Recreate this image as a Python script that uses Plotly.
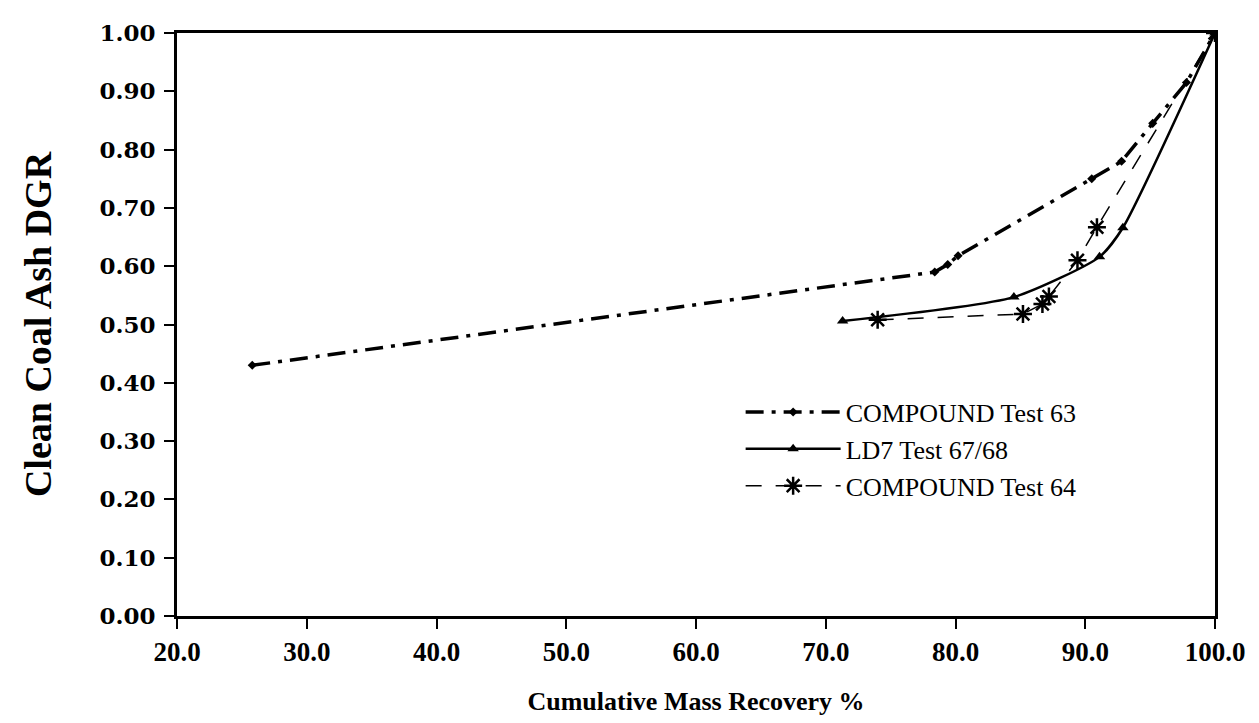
import plotly.graph_objects as go

# Data
c63_x = [25.8, 78.4, 79.4, 80.2, 90.5, 92.8, 95.2, 97.8, 100.0]
c63_y = [0.430, 0.590, 0.603, 0.618, 0.750, 0.780, 0.845, 0.915, 1.000]

ld7_x = [71.3, 84.5, 91.1, 92.9, 100.0]
ld7_y = [0.506, 0.547, 0.616, 0.666, 1.000]

c64_x = [74.0, 85.2, 86.7, 87.2, 89.4, 90.9, 100.0]
c64_y = [0.508, 0.518, 0.535, 0.548, 0.610, 0.667, 1.000]

names = ["COMPOUND Test 63", "LD7 Test 67/68", "COMPOUND Test 64"]
x_ticks = [20, 30, 40, 50, 60, 70, 80, 90, 100]
y_ticks = [0.0, 0.1, 0.2, 0.3, 0.4, 0.5, 0.6, 0.7, 0.8, 0.9, 1.0]

fig = go.Figure()
fig.add_trace(go.Scatter(
    x=c63_x, y=c63_y, name=names[0], mode="lines+markers", legendgroup="a",
    line=dict(color="black", width=3.5, dash="18px,8px,4px,8px"),
    marker=dict(symbol="diamond", size=7, color="black"),
))
fig.add_trace(go.Scatter(
    x=ld7_x, y=ld7_y, name=names[1], mode="lines+markers", legendgroup="b",
    line=dict(color="black", width=2.5, shape="spline", smoothing=0.6),
    marker=dict(symbol="triangle-up", size=10, color="black"),
))
fig.add_trace(go.Scatter(
    x=c64_x, y=c64_y, name=names[2], mode="lines+markers", legendgroup="c",
    line=dict(color="black", width=1.5, dash="16px,14px"),
    marker=dict(symbol="asterisk-open", size=15, color="black",
                line=dict(color="black", width=2.5)),
))

fig.update_layout(
    width=1259, height=723,
    margin=dict(l=177, r=44, t=33, b=107),
    paper_bgcolor="white", plot_bgcolor="white",
    showlegend=True,
    legend=dict(
        x=0.543, y=0.39, xanchor="left", yanchor="top",
        font=dict(family="Liberation Serif", size=26, color="black"),
        itemwidth=95, tracegroupgap=0, bgcolor="rgba(0,0,0,0)",
    ),
)
fig.update_xaxes(
    range=[20, 100], tickvals=x_ticks, tickformat=".1f",
    showline=True, linecolor="black", linewidth=2.5, mirror=True,
    ticks="outside", ticklen=10, tickwidth=1.5, tickcolor="black",
    showgrid=False, zeroline=False,
    tickfont=dict(family="Liberation Serif", size=27, color="black", weight="bold"),
    title=dict(text="Cumulative Mass Recovery %", standoff=26,
               font=dict(family="Liberation Serif", size=26, color="black", weight="bold")),
)
fig.update_yaxes(
    range=[0, 1], tickvals=y_ticks, tickformat=".2f",
    showline=True, linecolor="black", linewidth=2.5, mirror=True,
    ticks="outside", ticklen=10, tickwidth=1.5, tickcolor="black",
    showgrid=False, zeroline=False, ticklabelstandoff=4,
    tickfont=dict(family="DejaVu Serif", size=23, color="black", weight="bold"),
    title=dict(text="Clean Coal Ash DGR", standoff=37,
               font=dict(family="Liberation Serif", size=38, color="black", weight="bold")),
)

fig.write_html("out.html")
